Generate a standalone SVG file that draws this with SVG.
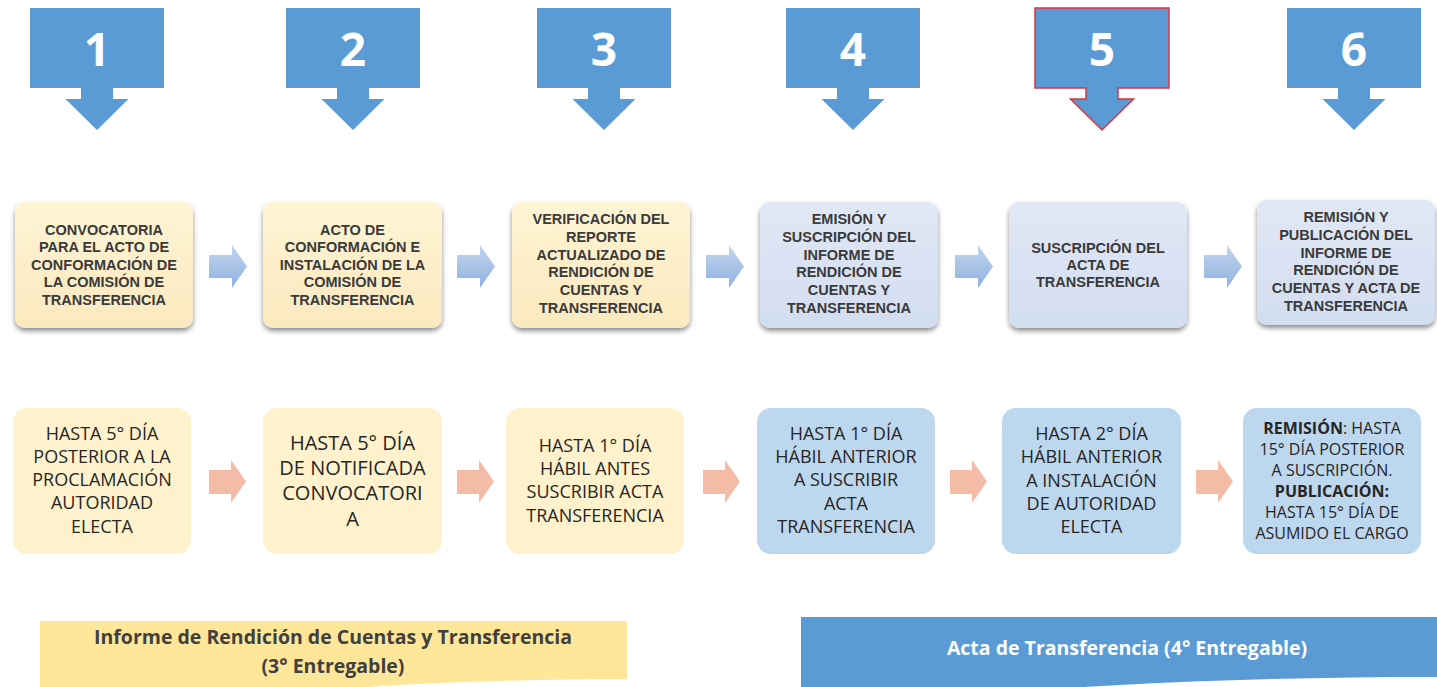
<svg xmlns="http://www.w3.org/2000/svg" width="1437" height="687" viewBox="0 0 1437 687">
<defs>
<style>
.num{font-family:"Open Sans","Liberation Sans",sans-serif;font-weight:700;font-size:46px;fill:#fff;text-anchor:middle}
.t1{font-family:"Liberation Sans",Arial,sans-serif;font-weight:700;font-size:14.5px;fill:#3a3a3a;text-anchor:middle}
.t2{font-family:"Open Sans","Liberation Sans",sans-serif;font-size:18px;fill:#262626;text-anchor:middle}
.t2b{font-size:20px}
.t2s{font-size:16px}
.b{font-weight:700}
.callout{fill:#5b9bd5}
.yel1{fill:url(#gy)}
.blu1{fill:url(#gb)}
.yel2{fill:#fff2cc}
.blu2{fill:#bdd7ee}
.arr1{fill:url(#ga)}
.arr2{fill:#f4bba7}
.ban{font-family:"Open Sans","Liberation Sans",sans-serif;font-weight:700;font-size:19.5px;text-anchor:middle}
</style>
<linearGradient id="gy" x1="0" y1="0" x2="0" y2="1"><stop offset="0" stop-color="#fff4d4"/><stop offset="1" stop-color="#fbe9bf"/></linearGradient>
<linearGradient id="gb" x1="0" y1="0" x2="0" y2="1"><stop offset="0" stop-color="#e1e8f5"/><stop offset="1" stop-color="#d2ddf0"/></linearGradient>
<linearGradient id="ga" x1="0" y1="0" x2="0" y2="1"><stop offset="0" stop-color="#c4d6ef"/><stop offset="1" stop-color="#8eb1df"/></linearGradient>
<filter id="sh" x="-10%" y="-10%" width="120%" height="130%"><feDropShadow dx="0" dy="3" stdDeviation="2.5" flood-color="#000" flood-opacity="0.45"/></filter>
<path id="co" d="M-67,8 H67 V88 H16 V99 H31.5 L0,130 L-31.5,99 H-16 V88 H-67 Z"/>
<path id="a1" d="M0,255 H23 V245 L38,266.5 L23,288 V278 H0 Z"/>
<path id="a2" d="M0,470 H22 V460 L37,481.5 L22,503 V494 H0 Z"/>
</defs>

<g id="step1"><use href="#co" class="callout" transform="translate(97,0)"/><text class="num" x="97" y="66">1</text></g>
<g id="step2"><use href="#co" class="callout" transform="translate(353,0)"/><text class="num" x="353" y="66">2</text></g>
<g id="step3"><use href="#co" class="callout" transform="translate(604,0)"/><text class="num" x="604" y="66">3</text></g>
<g id="step4"><use href="#co" class="callout" transform="translate(853,0)"/><text class="num" x="853" y="66">4</text></g>
<g id="step5"><use href="#co" class="callout" transform="translate(1102,0)" stroke="#d9363e" stroke-width="1.5"/><text class="num" x="1102" y="66">5</text></g>
<g id="step6"><use href="#co" class="callout" transform="translate(1354,0)"/><text class="num" x="1354" y="66">6</text></g>

<g id="act1"><rect class="yel1" x="15" y="202" width="178" height="126" rx="10" filter="url(#sh)"/>
<text class="t1"><tspan x="104" y="235">CONVOCATORIA</tspan><tspan x="104" y="252">PARA EL ACTO DE</tspan><tspan x="104" y="270">CONFORMACIÓN DE</tspan><tspan x="104" y="287">LA COMISIÓN DE</tspan><tspan x="104" y="305">TRANSFERENCIA</tspan></text></g>
<g id="act2"><rect class="yel1" x="263" y="202" width="179" height="126" rx="10" filter="url(#sh)"/>
<text class="t1"><tspan x="352.5" y="235">ACTO DE</tspan><tspan x="352.5" y="252">CONFORMACIÓN E</tspan><tspan x="352.5" y="270">INSTALACIÓN DE  LA</tspan><tspan x="352.5" y="287">COMISIÓN DE</tspan><tspan x="352.5" y="305">TRANSFERENCIA</tspan></text></g>
<g id="act3"><rect class="yel1" x="512" y="202" width="178" height="126" rx="10" filter="url(#sh)"/>
<text class="t1"><tspan x="601" y="224">VERIFICACIÓN DEL</tspan><tspan x="601" y="242">REPORTE</tspan><tspan x="601" y="260">ACTUALIZADO DE</tspan><tspan x="601" y="277">RENDICIÓN DE</tspan><tspan x="601" y="295">CUENTAS Y</tspan><tspan x="601" y="313">TRANSFERENCIA</tspan></text></g>
<g id="act4"><rect class="blu1" x="760" y="202" width="178" height="126" rx="10" filter="url(#sh)"/>
<text class="t1"><tspan x="849" y="224">EMISIÓN Y</tspan><tspan x="849" y="242">SUSCRIPCIÓN DEL</tspan><tspan x="849" y="260">INFORME DE</tspan><tspan x="849" y="277">RENDICIÓN DE</tspan><tspan x="849" y="295">CUENTAS Y</tspan><tspan x="849" y="313">TRANSFERENCIA</tspan></text></g>
<g id="act5"><rect class="blu1" x="1009" y="202" width="178" height="126" rx="10" filter="url(#sh)"/>
<text class="t1"><tspan x="1098" y="253">SUSCRIPCIÓN DEL</tspan><tspan x="1098" y="270">ACTA DE</tspan><tspan x="1098" y="287">TRANSFERENCIA</tspan></text></g>
<g id="act6"><rect class="blu1" x="1257" y="200" width="178" height="125" rx="10" filter="url(#sh)"/>
<text class="t1"><tspan x="1346" y="222">REMISIÓN Y</tspan><tspan x="1346" y="240">PUBLICACIÓN DEL</tspan><tspan x="1346" y="258">INFORME DE</tspan><tspan x="1346" y="275">RENDICIÓN DE</tspan><tspan x="1346" y="293">CUENTAS Y ACTA DE</tspan><tspan x="1346" y="311">TRANSFERENCIA</tspan></text></g>

<g id="plazo1"><rect class="yel2" x="13" y="408" width="178" height="146" rx="14"/>
<text class="t2"><tspan x="102" y="440">HASTA 5° DÍA</tspan><tspan x="102" y="463">POSTERIOR A LA</tspan><tspan x="102" y="486">PROCLAMACIÓN</tspan><tspan x="102" y="509">AUTORIDAD</tspan><tspan x="102" y="533">ELECTA</tspan></text></g>
<g id="plazo2"><rect class="yel2" x="263" y="408" width="179" height="146" rx="14"/>
<text class="t2 t2b"><tspan x="352.5" y="450">HASTA 5° DÍA</tspan><tspan x="352.5" y="475">DE NOTIFICADA</tspan><tspan x="352.5" y="500">CONVOCATORI</tspan><tspan x="352.5" y="526">A</tspan></text></g>
<g id="plazo3"><rect class="yel2" x="506" y="408" width="178" height="146" rx="14"/>
<text class="t2"><tspan x="595" y="452">HASTA 1° DÍA</tspan><tspan x="595" y="475">HÁBIL ANTES</tspan><tspan x="595" y="498">SUSCRIBIR ACTA</tspan><tspan x="595" y="522">TRANSFERENCIA</tspan></text></g>
<g id="plazo4"><rect class="blu2" x="757" y="408" width="178" height="146" rx="14"/>
<text class="t2"><tspan x="846" y="440">HASTA 1° DÍA</tspan><tspan x="846" y="463">HÁBIL ANTERIOR</tspan><tspan x="846" y="486">A SUSCRIBIR</tspan><tspan x="846" y="510">ACTA</tspan><tspan x="846" y="533">TRANSFERENCIA</tspan></text></g>
<g id="plazo5"><rect class="blu2" x="1002" y="408" width="179" height="146" rx="14"/>
<text class="t2"><tspan x="1091.5" y="440">HASTA 2° DÍA</tspan><tspan x="1091.5" y="463">HÁBIL ANTERIOR</tspan><tspan x="1091.5" y="487">A INSTALACIÓN</tspan><tspan x="1091.5" y="510">DE AUTORIDAD</tspan><tspan x="1091.5" y="533">ELECTA</tspan></text></g>
<g id="plazo6"><rect class="blu2" x="1243" y="408" width="178" height="146" rx="14"/>
<text class="t2 t2s"><tspan x="1332" y="434"><tspan class="b">REMISIÓN</tspan>: HASTA</tspan><tspan x="1332" y="455">15° DÍA POSTERIOR</tspan><tspan x="1332" y="476">A SUSCRIPCIÓN.</tspan><tspan x="1332" y="497" class="b">PUBLICACIÓN:</tspan><tspan x="1332" y="518">HASTA 15° DÍA DE</tspan><tspan x="1332" y="539">ASUMIDO EL CARGO</tspan></text></g>

<g id="connectors">
<use href="#a1" class="arr1" x="209"/>
<use href="#a1" class="arr1" x="457"/>
<use href="#a1" class="arr1" x="706"/>
<use href="#a1" class="arr1" x="955"/>
<use href="#a1" class="arr1" x="1204"/>
<use href="#a2" class="arr2" x="209"/>
<use href="#a2" class="arr2" x="457"/>
<use href="#a2" class="arr2" x="703"/>
<use href="#a2" class="arr2" x="950"/>
<use href="#a2" class="arr2" x="1196"/>
</g>

<g id="banner1"><path d="M40,621 H627 V679 C520,679 420,683 320,690 L40,690 Z" fill="#ffe699"/>
<text class="ban" fill="#404040"><tspan x="333" y="644">Informe de Rendición de Cuentas y Transferencia</tspan><tspan x="333" y="673">(3° Entregable)</tspan></text></g>
<g id="banner2"><path d="M801,617 H1437 V677 C1300,677 1160,681 1040,690 L801,690 Z" fill="#5b9bd5"/>
<text class="ban" fill="#fff" x="1127" y="655">Acta de Transferencia (4° Entregable)</text></g>
</svg>
